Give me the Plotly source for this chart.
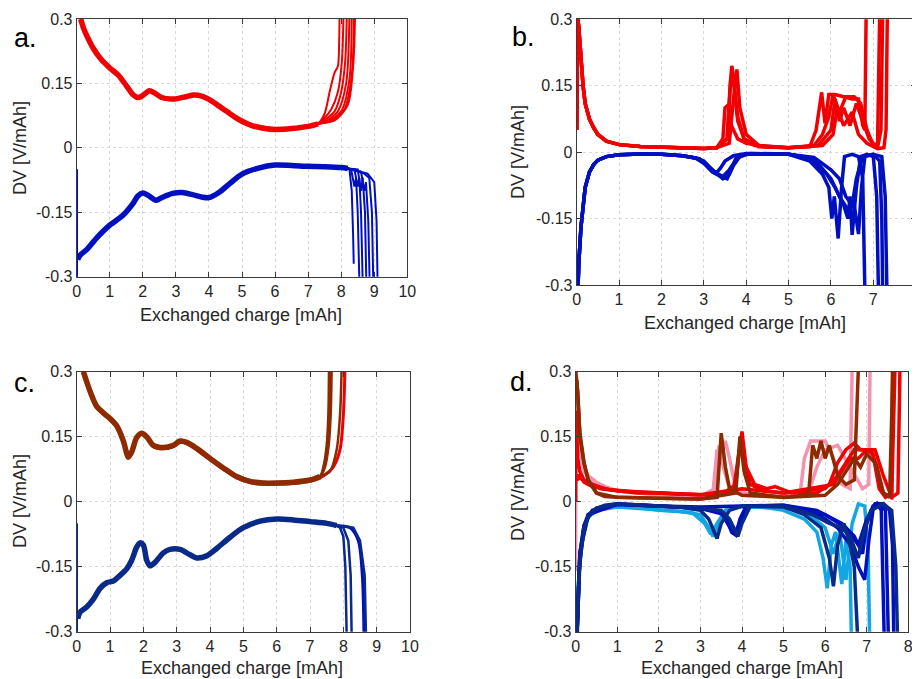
import plotly.graph_objects as go

# ---------------- colours ----------------
RED = "#F00000"
BLUE = "#0010C0"
BROWN = "#8E2A00"
NAVY = "#0A2A8A"
PINK = "#F592AE"
LBLUE = "#12A6E2"

# ---------------- panel a ----------------
A_RED_X = [0.12, 0.2, 0.3, 0.5, 0.75, 1.0, 1.25, 1.5, 1.7, 1.85, 2.0, 2.2, 2.35, 2.55, 2.8, 3.0, 3.3, 3.55, 3.8, 4.0, 4.2, 4.5, 4.8, 5.0, 5.3, 5.7, 6.0, 6.5, 7.0, 7.3]
A_RED_Y = [0.30, 0.28, 0.262, 0.232, 0.205, 0.186, 0.170, 0.145, 0.124, 0.117, 0.122, 0.133, 0.128, 0.118, 0.114, 0.114, 0.119, 0.123, 0.120, 0.113, 0.103, 0.087, 0.071, 0.062, 0.052, 0.045, 0.043, 0.045, 0.050, 0.056]
A_RED_TAILS = [
    ([7.5, 7.65, 7.8, 7.9, 7.94, 7.95], [0.08, 0.13, 0.175, 0.19, 0.25, 0.31]),
    ([7.5, 7.7, 7.9, 8.02, 8.07], [0.07, 0.09, 0.13, 0.2, 0.31]),
    ([7.5, 7.8, 8.0, 8.12, 8.17], [0.065, 0.085, 0.13, 0.2, 0.31]),
    ([7.6, 7.9, 8.15, 8.25], [0.065, 0.085, 0.15, 0.31]),
    ([7.6, 8.0, 8.25, 8.32], [0.062, 0.085, 0.16, 0.31]),
    ([7.7, 8.1, 8.32, 8.39], [0.062, 0.09, 0.17, 0.31]),
    ([7.8, 8.2, 8.37, 8.42], [0.064, 0.1, 0.2, 0.31]),
]
A_BLUE_X = [0.03, 0.1, 0.3, 0.6, 1.0, 1.4, 1.7, 1.85, 2.0, 2.15, 2.4, 2.6, 2.9, 3.2, 3.5, 3.8, 4.0, 4.3, 4.6, 5.0, 5.5, 6.0, 6.5, 7.0, 7.5, 8.0, 8.2]
A_BLUE_Y = [-0.26, -0.25, -0.237, -0.21, -0.18, -0.157, -0.13, -0.112, -0.105, -0.11, -0.122, -0.115, -0.106, -0.104, -0.109, -0.115, -0.116, -0.104, -0.085, -0.061, -0.047, -0.04, -0.041, -0.043, -0.044, -0.046, -0.048]
A_BLUE_START_X = [0.01, 0.01]
A_BLUE_START_Y = [-0.05, -0.31]
A_BLUE_TAILS = [
    ([8.25, 8.32, 8.36, 8.38], [-0.05, -0.1, -0.2, -0.27]),
    ([8.3, 8.4, 8.45, 8.5, 8.55], [-0.05, -0.09, -0.07, -0.15, -0.31]),
    ([8.4, 8.5, 8.55, 8.6, 8.65], [-0.05, -0.09, -0.07, -0.15, -0.31]),
    ([8.5, 8.6, 8.65, 8.72, 8.76], [-0.05, -0.1, -0.07, -0.15, -0.31]),
    ([8.6, 8.7, 8.75, 8.82, 8.86], [-0.055, -0.1, -0.08, -0.17, -0.31]),
    ([8.7, 8.85, 8.93, 8.97], [-0.06, -0.07, -0.15, -0.31]),
    ([8.8, 9.0, 9.07, 9.1], [-0.06, -0.08, -0.17, -0.31]),
]

# ---------------- panel b ----------------
B_RED_X = [0.0, 0.02, 0.05, 0.1, 0.15, 0.2, 0.3, 0.4, 0.5, 0.7, 1.0, 1.5, 2.0, 2.5, 3.0, 3.3]
B_RED_Y = [0.05, 0.31, 0.28, 0.2, 0.15, 0.11, 0.075, 0.055, 0.04, 0.025, 0.017, 0.013, 0.011, 0.010, 0.008, 0.010]
B_RED_CYCLES = [
    ([3.45, 3.5, 3.58, 3.65, 3.8, 4.0, 4.5, 5.0, 5.5, 5.65, 5.78, 5.86, 5.95, 6.1, 6.3, 6.5, 6.65, 6.75, 6.8, 6.83],
     [0.03, 0.1, 0.107, 0.06, 0.03, 0.02, 0.012, 0.01, 0.012, 0.05, 0.135, 0.065, 0.13, 0.13, 0.125, 0.12, 0.12, 0.06, 0.05, 0.31]),
    ([3.55, 3.62, 3.66, 3.7, 3.8, 3.95, 4.2, 5.0, 5.6, 5.8, 5.95, 6.05, 6.2, 6.35, 6.55, 6.7, 6.85, 7.0, 7.1, 7.15],
     [0.03, 0.15, 0.195, 0.17, 0.08, 0.03, 0.015, 0.01, 0.015, 0.04, 0.08, 0.13, 0.09, 0.125, 0.125, 0.11, 0.05, 0.015, 0.02, 0.31]),
    ([3.6, 3.7, 3.78, 3.85, 4.0, 4.3, 5.0, 5.7, 6.0, 6.1, 6.2, 6.3, 6.45, 6.6, 6.75, 6.9, 7.1, 7.18, 7.22],
     [0.02, 0.12, 0.187, 0.1, 0.04, 0.015, 0.01, 0.015, 0.05, 0.12, 0.07, 0.1, 0.06, 0.11, 0.07, 0.03, 0.01, 0.05, 0.31]),
    ([3.55, 3.64, 3.7, 3.8, 3.95, 4.3, 5.0, 5.8, 6.05, 6.15, 6.3, 6.5, 6.65, 6.85, 7.1, 7.25, 7.3, 7.33],
     [0.03, 0.17, 0.16, 0.07, 0.03, 0.012, 0.01, 0.015, 0.04, 0.1, 0.06, 0.09, 0.04, 0.02, 0.008, 0.01, 0.05, 0.31]),
]
B_BLUE_X = [0.03, 0.05, 0.1, 0.15, 0.2, 0.3, 0.4, 0.5, 0.7, 1.0, 1.5, 2.0, 2.5, 2.8]
B_BLUE_Y = [-0.31, -0.25, -0.17, -0.12, -0.08, -0.045, -0.028, -0.018, -0.01, -0.006, -0.004, -0.005, -0.008, -0.013]
B_BLUE_CYCLES = [
    ([3.0, 3.2, 3.3, 3.4, 3.5, 3.7, 4.0, 5.0, 5.5, 5.8, 5.95, 6.02, 6.08, 6.17, 6.25, 6.32, 6.5, 6.65, 6.75, 6.8],
     [-0.025, -0.04, -0.047, -0.035, -0.02, -0.008, -0.003, -0.005, -0.02, -0.05, -0.08, -0.15, -0.1, -0.195, -0.08, -0.01, -0.005, -0.01, -0.06, -0.31]),
    ([2.9, 3.2, 3.4, 3.55, 3.7, 3.85, 4.1, 5.0, 5.5, 5.9, 6.1, 6.3, 6.4, 6.45, 6.5, 6.6, 6.7, 6.85, 7.0, 7.08, 7.12],
     [-0.015, -0.045, -0.055, -0.06, -0.03, -0.01, -0.003, -0.004, -0.015, -0.05, -0.08, -0.12, -0.15, -0.1, -0.187, -0.08, -0.01, -0.005, -0.01, -0.1, -0.31]),
    ([2.9, 3.2, 3.45, 3.6, 3.75, 4.0, 5.0, 5.6, 6.0, 6.2, 6.4, 6.55, 6.65, 6.72, 6.8, 7.0, 7.15, 7.2, 7.22],
     [-0.015, -0.04, -0.06, -0.05, -0.015, -0.004, -0.005, -0.015, -0.06, -0.1, -0.13, -0.12, -0.185, -0.08, -0.01, -0.005, -0.02, -0.15, -0.31]),
    ([3.0, 3.25, 3.45, 3.6, 3.8, 4.0, 5.0, 5.6, 6.0, 6.2, 6.35, 6.5, 6.6, 6.75, 7.0, 7.2, 7.28, 7.32],
     [-0.02, -0.045, -0.055, -0.04, -0.012, -0.004, -0.005, -0.012, -0.04, -0.06, -0.1, -0.12, -0.06, -0.01, -0.005, -0.01, -0.1, -0.31]),
]

# ---------------- panel c ----------------
C_RED_X = [0.2, 0.4, 0.6, 0.8, 1.0, 1.2, 1.4, 1.55, 1.65, 1.8, 1.95, 2.1, 2.3, 2.6, 2.9, 3.1, 3.3, 3.6, 4.0, 4.4, 4.8, 5.2, 5.6, 6.0, 6.5, 7.0, 7.3]
C_RED_Y = [0.30, 0.255, 0.22, 0.205, 0.192, 0.175, 0.14, 0.103, 0.115, 0.148, 0.158, 0.15, 0.13, 0.125, 0.13, 0.14, 0.137, 0.123, 0.10, 0.078, 0.058, 0.047, 0.043, 0.043, 0.045, 0.050, 0.058]
C_RED_TAIL = ([7.5, 7.7, 7.9, 8.0, 8.05], [0.065, 0.08, 0.12, 0.2, 0.31])
C_BROWN_TAILS = [
    ([7.4, 7.5, 7.55, 7.57], [0.08, 0.13, 0.2, 0.31]),
    ([7.42, 7.52, 7.58, 7.61], [0.08, 0.13, 0.2, 0.31]),
    ([7.45, 7.56, 7.62, 7.65], [0.08, 0.13, 0.2, 0.31]),
    ([7.6, 7.8, 7.9, 7.95], [0.07, 0.12, 0.2, 0.31]),
]
C_BLUE_X = [0.03, 0.1, 0.3, 0.5, 0.7, 0.9, 1.1, 1.3, 1.5, 1.65, 1.8, 1.9, 2.0, 2.1, 2.2, 2.35, 2.6, 2.8, 3.1, 3.3, 3.6, 3.9, 4.2, 4.6, 5.0, 5.5, 6.0, 6.5, 7.0, 7.5, 7.8]
C_BLUE_Y = [-0.27, -0.255, -0.243, -0.225, -0.2, -0.187, -0.183, -0.17, -0.155, -0.135, -0.105, -0.095, -0.1, -0.135, -0.148, -0.14, -0.118, -0.11, -0.11, -0.118, -0.13, -0.125, -0.108, -0.082, -0.06, -0.045, -0.04, -0.042, -0.046, -0.05, -0.055]
C_BLUE_START_X = [0.01, 0.01]
C_BLUE_START_Y = [-0.05, -0.31]
C_NAVY_TAILS = [
    ([7.9, 8.0, 8.06, 8.1], [-0.06, -0.08, -0.15, -0.31]),
    ([8.0, 8.15, 8.22, 8.25], [-0.06, -0.09, -0.17, -0.31]),
    ([8.3, 8.5, 8.64, 8.68], [-0.06, -0.09, -0.17, -0.31]),
]
C_BLUE_TAIL = ([8.2, 8.45, 8.57, 8.62], [-0.06, -0.09, -0.17, -0.31])

# ---------------- panel d ----------------
D_PINK = [
    ([0.0, 0.0, 0.05, 0.1, 0.2, 0.3, 0.5, 0.8, 1.2, 2.0, 3.0, 3.3, 3.4, 3.5, 3.6, 3.7, 3.85, 4.2, 5.0, 5.4, 5.5, 5.65, 5.8, 6.0, 6.2, 6.4, 6.6, 6.65],
     [-0.16, 0.31, 0.25, 0.15, 0.08, 0.06, 0.045, 0.03, 0.022, 0.016, 0.013, 0.02, 0.12, 0.1, 0.14, 0.1, 0.03, 0.015, 0.012, 0.02, 0.1, 0.14, 0.14, 0.14, 0.1, 0.04, 0.03, 0.31]),
    ([0.05, 0.1, 0.2, 0.4, 1.0, 2.0, 3.0, 3.35, 3.45, 3.55, 3.7, 4.0, 5.0, 5.6, 5.8, 6.0, 6.3, 6.6, 6.9, 7.05, 7.08],
     [0.2, 0.12, 0.07, 0.045, 0.025, 0.016, 0.013, 0.03, 0.13, 0.08, 0.03, 0.015, 0.012, 0.02, 0.08, 0.12, 0.13, 0.08, 0.03, 0.04, 0.31]),
]
D_RED = [
    ([0.0, 0.0, 0.05, 0.1, 0.2, 0.4, 0.7, 1.0, 1.5, 2.0, 2.5, 3.0, 3.5, 3.8, 3.95, 4.0, 4.1, 4.3, 4.6, 4.8, 5.2, 5.8, 6.1, 6.3, 6.5, 6.7, 6.85, 7.0, 7.15, 7.3, 7.45, 7.6, 7.62],
     [0.0, 0.21, 0.1, 0.07, 0.05, 0.04, 0.03, 0.025, 0.02, 0.02, 0.017, 0.015, 0.015, 0.03, 0.12, 0.162, 0.08, 0.04, 0.03, 0.035, 0.02, 0.02, 0.04, 0.09, 0.12, 0.135, 0.12, 0.12, 0.11, 0.03, 0.01, 0.02, 0.31]),
    ([0.02, 0.1, 0.2, 0.4, 0.8, 1.5, 2.5, 3.5, 3.85, 3.97, 4.05, 4.2, 4.5, 5.0, 6.0, 6.3, 6.5, 6.7, 6.9, 7.1, 7.25, 7.4, 7.6, 7.68],
     [0.06, 0.06, 0.045, 0.035, 0.028, 0.022, 0.018, 0.015, 0.04, 0.15, 0.1, 0.04, 0.025, 0.02, 0.03, 0.06, 0.09, 0.12, 0.12, 0.12, 0.08, 0.02, 0.01, 0.31]),
    ([0.02, 0.1, 0.3, 0.6, 1.0, 2.0, 3.0, 4.0, 5.0, 6.2, 6.6, 6.8, 7.0, 7.2, 7.4, 7.6, 7.75, 7.8],
     [0.05, 0.055, 0.045, 0.03, 0.025, 0.02, 0.016, 0.03, 0.02, 0.04, 0.1, 0.1, 0.12, 0.12, 0.06, 0.01, 0.02, 0.31]),
]
D_BROWN = [
    ([0.0, 0.05, 0.1, 0.2, 0.3, 0.5, 0.7, 1.0, 2.0, 3.0, 3.4, 3.5, 3.6, 3.7, 4.0, 5.0, 5.6, 5.7, 5.8, 5.9, 6.0, 6.1, 6.3, 6.5, 6.7, 6.8],
     [0.3, 0.25, 0.15, 0.09, 0.05, 0.02, 0.012, 0.01, 0.008, 0.006, 0.01, 0.158, 0.08, 0.03, 0.015, 0.01, 0.015, 0.13, 0.1, 0.14, 0.1, 0.13, 0.06, 0.04, 0.05, 0.31]),
    ([0.03, 0.1, 0.2, 0.3, 0.5, 1.0, 2.0, 3.0, 3.85, 3.95, 4.05, 4.2, 5.0, 6.0, 6.3, 6.5, 6.7, 6.85, 7.0, 7.2, 7.4, 7.55, 7.63],
     [0.28, 0.16, 0.09, 0.05, 0.02, 0.01, 0.008, 0.006, 0.02, 0.15, 0.07, 0.02, 0.01, 0.015, 0.04, 0.07, 0.1, 0.08, 0.11, 0.09, 0.02, 0.01, 0.31]),
]
D_LBLUE = [
    ([0.03, 0.06, 0.1, 0.2, 0.3, 0.5, 1.0, 1.5, 2.0, 2.5, 3.0, 3.2, 3.3, 3.4, 3.6, 4.0, 4.5, 5.0, 5.5, 5.8, 5.95, 6.05, 6.15, 6.25, 6.4, 6.5, 6.6, 6.63],
     [-0.31, -0.2, -0.13, -0.06, -0.035, -0.02, -0.012, -0.015, -0.02, -0.022, -0.03, -0.06, -0.08, -0.06, -0.02, -0.01, -0.012, -0.02, -0.04, -0.07, -0.13, -0.2, -0.1, -0.07, -0.19, -0.09, -0.15, -0.31]),
    ([0.04, 0.08, 0.15, 0.3, 0.6, 1.2, 2.0, 2.8, 3.1, 3.25, 3.4, 3.6, 4.0, 5.0, 5.5, 6.0, 6.2, 6.35, 6.5, 6.65, 6.8, 6.95, 7.03, 7.07],
     [-0.31, -0.17, -0.09, -0.035, -0.015, -0.01, -0.02, -0.025, -0.05, -0.075, -0.05, -0.02, -0.012, -0.015, -0.02, -0.06, -0.12, -0.07, -0.18, -0.05, -0.005, -0.01, -0.1, -0.31]),
]
D_BLUE = [
    ([0.03, 0.06, 0.1, 0.2, 0.3, 0.5, 1.0, 2.0, 3.0, 3.6, 3.75, 3.85, 3.95, 4.1, 5.0, 5.6, 6.0, 6.3, 6.6, 6.8, 6.95, 7.05, 7.15, 7.25, 7.35, 7.42],
     [-0.31, -0.2, -0.12, -0.055, -0.03, -0.016, -0.006, -0.01, -0.015, -0.03, -0.07, -0.077, -0.04, -0.01, -0.008, -0.02, -0.04, -0.06, -0.1, -0.15, -0.18, -0.09, -0.02, -0.005, -0.02, -0.31]),
    ([0.03, 0.06, 0.1, 0.2, 0.4, 1.0, 2.0, 3.0, 3.5, 3.7, 3.8, 3.95, 4.2, 5.0, 5.8, 6.4, 6.7, 6.9, 7.0, 7.15, 7.3, 7.45, 7.52],
     [-0.31, -0.2, -0.12, -0.055, -0.02, -0.006, -0.01, -0.015, -0.025, -0.06, -0.075, -0.05, -0.01, -0.008, -0.02, -0.05, -0.08, -0.12, -0.05, -0.01, -0.005, -0.02, -0.31]),
    ([0.03, 0.1, 0.3, 1.0, 2.0, 3.0, 4.0, 5.0, 6.0, 6.5, 6.8, 7.0, 7.2, 7.4, 7.55, 7.62, 7.65],
     [-0.31, -0.12, -0.03, -0.006, -0.01, -0.012, -0.01, -0.01, -0.03, -0.06, -0.1, -0.04, -0.005, -0.005, -0.02, -0.1, -0.31]),
]
D_NAVY = [
    ([0.03, 0.06, 0.1, 0.15, 0.2, 0.3, 0.4, 0.5, 0.7, 1.0, 1.5, 2.0, 2.5, 3.0, 3.2, 3.4, 3.5, 3.7, 4.0, 5.0, 5.5, 5.9, 6.1, 6.2, 6.3, 6.45, 6.6, 6.7, 6.78],
     [-0.31, -0.2, -0.14, -0.1, -0.06, -0.035, -0.022, -0.015, -0.008, -0.005, -0.007, -0.01, -0.012, -0.02, -0.04, -0.085, -0.05, -0.02, -0.01, -0.012, -0.03, -0.06, -0.13, -0.195, -0.1, -0.05, -0.1, -0.15, -0.31]),
    ([0.03, 0.06, 0.1, 0.2, 0.3, 0.5, 1.0, 2.0, 3.0, 3.5, 3.7, 3.9, 4.0, 4.2, 5.0, 5.7, 6.1, 6.4, 6.6, 6.8, 6.9, 7.1, 7.4, 7.6, 7.7, 7.74],
     [-0.31, -0.21, -0.14, -0.06, -0.035, -0.015, -0.005, -0.01, -0.015, -0.02, -0.04, -0.08, -0.05, -0.01, -0.01, -0.03, -0.05, -0.06, -0.08, -0.13, -0.08, -0.02, -0.005, -0.02, -0.15, -0.31]),
]

# ---------------- tick labels ----------------
Y_TICKS = [-0.3, -0.15, 0, 0.15, 0.3]
Y_TICK_TEXT = ["-0.3", "-0.15", "0", "0.15", "0.3"]
X_TICKS_10 = list(range(0, 11))
X_TICKS_8 = list(range(0, 9))
PANEL_LABELS = ["a.", "b.", "c.", "d."]
X_TITLE = "Exchanged charge [mAh]"
Y_TITLE = "DV [V/mAh]"

# the page puts the figure 8 px in from the window's top-left corner
OFF = 8
W, H = 920 - OFF, 679 - OFF
fig = go.Figure()


def add(x, y, color, width, ax, smooth=False):
    line = dict(color=color, width=width)
    if smooth:
        line.update(shape="spline", smoothing=0.8)
    fig.add_trace(go.Scatter(x=x, y=y, mode="lines", line=line,
                             xaxis="x" + ax, yaxis="y" + ax, showlegend=False, hoverinfo="skip"))


# panel a (axis suffix "")
for tx, ty in A_RED_TAILS:
    add(A_RED_X[-3:] + tx, A_RED_Y[-3:] + ty, RED, 2, "", True)
add(A_RED_X, A_RED_Y, RED, 5.5, "", True)
add(A_BLUE_START_X, A_BLUE_START_Y, BLUE, 2, "")
for tx, ty in A_BLUE_TAILS:
    add(A_BLUE_X[-3:] + tx, A_BLUE_Y[-3:] + ty, BLUE, 2, "")
add(A_BLUE_X, A_BLUE_Y, BLUE, 5.5, "", True)

# panel b (axis suffix "2")
for cx, cy in B_RED_CYCLES:
    add(B_RED_X + cx, B_RED_Y + cy, RED, 3.5, "2")
for cx, cy in B_BLUE_CYCLES:
    add(B_BLUE_X + cx, B_BLUE_Y + cy, BLUE, 3.5, "2")

# panel c (axis suffix "3")
add(C_RED_X + C_RED_TAIL[0], [v - 0.003 for v in C_RED_Y] + C_RED_TAIL[1], RED, 3, "3", True)
for tx, ty in C_BROWN_TAILS:
    add(C_RED_X[-2:] + tx, C_RED_Y[-2:] + ty, BROWN, 2.5, "3", True)
add(C_RED_X, C_RED_Y, BROWN, 5.5, "3", True)
add(C_BLUE_START_X, C_BLUE_START_Y, NAVY, 2, "3")
add(C_BLUE_X + C_BLUE_TAIL[0], C_BLUE_Y + C_BLUE_TAIL[1], BLUE, 3, "3", True)
for tx, ty in C_NAVY_TAILS:
    add(C_BLUE_X[-2:] + tx, C_BLUE_Y[-2:] + ty, NAVY, 2.5, "3")
add(C_BLUE_X, C_BLUE_Y, NAVY, 5.5, "3", True)

# panel d (axis suffix "4")
for group, col in [(D_PINK, PINK), (D_RED, RED), (D_BROWN, BROWN)]:
    for cx, cy in group:
        add(cx, cy, col, 3.5, "4")
for group, col in [(D_LBLUE, LBLUE), (D_BLUE, BLUE), (D_NAVY, NAVY)]:
    for cx, cy in group:
        add(cx, cy, col, 3.5, "4")

# ---------------- axes ----------------
# window-pixel boxes of the four plot areas: (left, right, top, bottom)
boxes = {
    "": (76.7, 407.3, 19.0, 276.7),
    "2": (576.7, 915.7, 19.3, 285.0),
    "3": (76.7, 410.0, 371.7, 631.7),
    "4": (575.7, 908.3, 371.7, 631.7),
}


def fx(px):
    return (px - OFF) / W


def fy(py):
    return 1 - (py - OFF) / H


xranges = {"": 10, "2": 8, "3": 10, "4": 8}
FONT = "Liberation Sans, Arial, sans-serif"
TICKCOL = "#262626"
axis_common = dict(showgrid=True, gridcolor="#D9D9D9", griddash="dot", gridwidth=1,
                   zeroline=False, showline=True, linecolor="#3A3A3A", linewidth=1, mirror="allticks",
                   ticks="inside", ticklen=5, tickcolor="#3A3A3A", automargin=False,
                   tickfont=dict(family=FONT, size=16, color=TICKCOL))
layout = {}
for suf, (l, r, t, b) in boxes.items():
    xa = dict(axis_common, domain=[fx(l), fx(r)], range=[0, xranges[suf]],
              tickvals=X_TICKS_10 if xranges[suf] == 10 else X_TICKS_8,
              anchor="y" + suf)
    ya = dict(axis_common, domain=[fy(b), fy(t)], range=[-0.3, 0.3],
              tickvals=Y_TICKS, ticktext=Y_TICK_TEXT, anchor="x" + suf)
    layout["xaxis" + suf] = xa
    layout["yaxis" + suf] = ya

annotations = []
label_pos = [(12, 38), (510, 37), (12, 383), (508, 382)]
for txt, (px, py) in zip(PANEL_LABELS, label_pos):
    annotations.append(dict(text=txt, x=fx(px), y=fy(py), xref="paper", yref="paper",
                            xanchor="left", yanchor="middle", showarrow=False,
                            font=dict(family=FONT, size=27, color="black")))
xt_pos = [(241, 315), (745, 323), (242, 668), (742, 668)]
for px, py in xt_pos:
    annotations.append(dict(text=X_TITLE, x=fx(px), y=fy(py), xref="paper", yref="paper",
                            xanchor="center", yanchor="middle", showarrow=False,
                            font=dict(family=FONT, size=18, color=TICKCOL)))
yt_pos = [(20, 148), (518, 152), (20, 501), (518, 494)]
for px, py in yt_pos:
    annotations.append(dict(text=Y_TITLE, x=fx(px), y=fy(py), xref="paper", yref="paper",
                            xanchor="center", yanchor="middle", showarrow=False, textangle=-90,
                            font=dict(family=FONT, size=18, color=TICKCOL)))

fig.update_layout(template="none", width=W, height=H,
                  margin=dict(l=0, r=0, t=0, b=0, pad=0, autoexpand=False),
                  paper_bgcolor="white", plot_bgcolor="white", showlegend=False,
                  annotations=annotations, **layout)
fig.write_html("out.html")
